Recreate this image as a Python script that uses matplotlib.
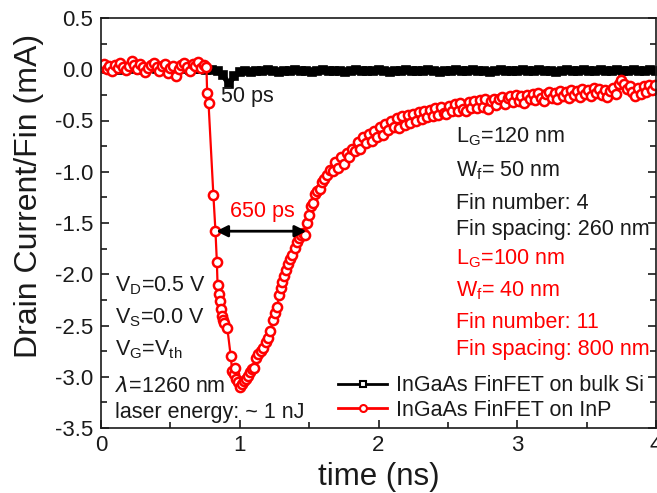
import numpy as np
import matplotlib
matplotlib.use("Agg")
import matplotlib.pyplot as plt
from matplotlib.ticker import MultipleLocator, FormatStrFormatter
from matplotlib.lines import Line2D

plt.rcParams['font.family'] = ['Liberation Sans', 'DejaVu Sans']

# InGaAs FinFET on bulk Si (black), sampled every 40 ps
t_si = np.round(np.arange(0, 4.0001, 0.04), 3)
i_si = [0.01, 0.00, 0.01, -0.01, 0.00, 0.01, 0.00, -0.01, 0.00, 0.01,
        0.00, 0.00, -0.01, 0.00, 0.01, 0.00, -0.01, 0.00, 0.00,
        -0.01, -0.01, -0.02,
        -0.06, -0.14, -0.07, -0.03,
        -0.02, -0.03, -0.02, -0.02, -0.01, -0.02, -0.03, -0.02, -0.02, -0.01,
        -0.02, -0.02, -0.03, -0.02, -0.01, -0.02, -0.02, -0.02, -0.03, -0.02,
        -0.01, -0.02, -0.02, -0.02, -0.01, -0.02, -0.03, -0.02, -0.02, -0.01,
        -0.02, -0.02, -0.02, -0.01, -0.02, -0.03, -0.02, -0.02, -0.01, -0.02,
        -0.02, -0.01, -0.02, -0.02, -0.03, -0.02, -0.01, -0.02, -0.02, -0.02,
        -0.01, -0.02, -0.02, -0.01, -0.02, -0.02, -0.03, -0.02, -0.01, -0.02,
        -0.02, -0.01, -0.02, -0.02, -0.01, -0.02, -0.02, -0.01, -0.02, -0.02,
        -0.01, -0.02, -0.02, -0.01, -0.02]

# InGaAs FinFET on InP (red)
t_inp = [0.00, 0.02, 0.04, 0.06, 0.08, 0.10, 0.12, 0.14, 0.16, 0.18,
         0.20, 0.22, 0.24, 0.26, 0.28, 0.30, 0.32, 0.34, 0.36, 0.38,
         0.40, 0.42, 0.44, 0.46, 0.48, 0.50, 0.52, 0.54, 0.56, 0.58,
         0.60, 0.62, 0.64, 0.66, 0.68, 0.70, 0.72, 0.74, 0.76,
         0.765, 0.775, 0.81, 0.825, 0.835, 0.84, 0.85, 0.855, 0.865, 0.87,
         0.88, 0.89, 0.91, 0.935, 0.945, 0.955, 0.965, 0.975, 0.99, 1.005,
         1.015, 1.03, 1.045, 1.06, 1.075, 1.09, 1.105, 1.12, 1.135, 1.15,
         1.17, 1.19, 1.205, 1.22, 1.24, 1.255, 1.27, 1.285, 1.295, 1.305,
         1.32, 1.335, 1.35, 1.365, 1.38, 1.395, 1.41, 1.425, 1.44, 1.455,
         1.47, 1.485, 1.50, 1.515, 1.53, 1.545, 1.56, 1.575, 1.59, 1.61,
         1.63, 1.65, 1.67, 1.69, 1.71, 1.73, 1.75, 1.77, 1.79, 1.81,
         1.83, 1.85, 1.87, 1.89, 1.91, 1.93, 1.95, 1.97, 1.99, 2.01,
         2.03, 2.05, 2.07, 2.09, 2.11, 2.13, 2.15, 2.17, 2.19, 2.21,
         2.23, 2.25, 2.27, 2.29, 2.31, 2.33, 2.35, 2.37, 2.39, 2.41,
         2.43, 2.45, 2.47, 2.49, 2.51, 2.53, 2.55, 2.57, 2.59, 2.61,
         2.63, 2.65, 2.67, 2.69, 2.71, 2.73, 2.75, 2.77, 2.79, 2.81,
         2.83, 2.85, 2.87, 2.89, 2.91, 2.93, 2.95, 2.97, 2.99, 3.01,
         3.03, 3.05, 3.07, 3.09, 3.11, 3.13, 3.15, 3.17, 3.19, 3.21,
         3.23, 3.25, 3.27, 3.29, 3.31, 3.33, 3.35, 3.37, 3.39, 3.41,
         3.43, 3.45, 3.47, 3.49, 3.51, 3.53, 3.55, 3.57, 3.59, 3.61,
         3.63, 3.65, 3.67, 3.69, 3.71, 3.73, 3.75, 3.77, 3.79, 3.81,
         3.83, 3.85, 3.87, 3.89, 3.91, 3.93, 3.95, 3.97, 3.99]
i_inp = [0.02, 0.05, 0.00, 0.03, -0.02, 0.04, 0.01, 0.06, 0.02, -0.01,
         0.03, 0.08, 0.04, 0.00, 0.05, 0.02, -0.03, 0.01, 0.04, 0.06,
         0.02, -0.02, 0.03, 0.05, -0.04, 0.01, 0.03, -0.07, 0.00, 0.04,
         0.06, 0.02, -0.02, 0.05, 0.03, 0.07, 0.01, 0.04, 0.02,
         -0.23, -0.33, -1.23, -1.58, -1.88, -2.10, -2.19, -2.26, -2.34, -2.41,
         -2.45, -2.48, -2.52, -2.80, -2.94, -2.97, -2.91, -3.02, -3.05, -3.10,
         -3.07, -3.04, -3.02, -2.99, -2.95, -2.92, -2.91, -2.82, -2.78, -2.75,
         -2.72, -2.66, -2.62, -2.55, -2.45, -2.38, -2.32, -2.20, -2.13, -2.08,
         -2.02, -1.96, -1.90, -1.85, -1.81, -1.74, -1.69, -1.65, -1.62, -1.60,
         -1.62, -1.50, -1.42, -1.33, -1.30, -1.22, -1.19, -1.17, -1.10, -1.07,
         -1.03, -0.98, -0.99, -0.90, -0.96, -0.86, -0.92, -0.82, -0.86, -0.78,
         -0.80, -0.71, -0.78, -0.66, -0.72, -0.63, -0.70, -0.60, -0.66, -0.56,
         -0.64, -0.53, -0.59, -0.50, -0.56, -0.48, -0.57, -0.46, -0.54, -0.45,
         -0.52, -0.44, -0.50, -0.42, -0.49, -0.41, -0.47, -0.40, -0.46, -0.38,
         -0.45, -0.37, -0.43, -0.44, -0.36, -0.41, -0.34, -0.41, -0.33, -0.39,
         -0.41, -0.32, -0.38, -0.31, -0.38, -0.30, -0.37, -0.29, -0.39, -0.31,
         -0.29, -0.35, -0.29, -0.27, -0.34, -0.28, -0.26, -0.32, -0.25, -0.31,
         -0.26, -0.33, -0.25, -0.29, -0.24, -0.30, -0.23, -0.28, -0.31, -0.24,
         -0.22, -0.28, -0.23, -0.29, -0.21, -0.26, -0.22, -0.28, -0.20, -0.25,
         -0.21, -0.27, -0.19, -0.24, -0.20, -0.26, -0.18, -0.23, -0.19, -0.25,
         -0.20, -0.27, -0.21, -0.18, -0.24, -0.14, -0.10, -0.14, -0.19, -0.16,
         -0.22, -0.26, -0.18, -0.24, -0.16, -0.22, -0.15, -0.20, -0.15]

RED = '#ff0000'
INK = '#1a1a1a'

fig = plt.figure(figsize=(6.57, 4.93), dpi=100)
ax = fig.add_axes([101 / 657, 1 - 428 / 493, 555 / 657, 410 / 493])

ax.plot(t_si, i_si, color='black', lw=4, marker='s', ms=6, mew=1.2,
        mfc='black', mec='black')
ax.plot(t_inp, i_inp, color=RED, lw=1.6, marker='o', ms=6.6, mew=1.8,
        mfc='white', mec=RED)

ax.set_xlim(0, 4)
ax.set_ylim(-3.5, 0.5)
ax.xaxis.set_major_locator(MultipleLocator(1))
ax.xaxis.set_minor_locator(MultipleLocator(0.5))
ax.yaxis.set_major_locator(MultipleLocator(0.5))
ax.yaxis.set_minor_locator(MultipleLocator(0.25))
ax.yaxis.set_major_formatter(FormatStrFormatter('%.1f'))
ax.tick_params(which='both', direction='in', right=True, top=False,
               labelsize=16, width=1.2, colors=INK)
ax.tick_params(which='major', length=6)
ax.tick_params(which='minor', length=4)
ax.tick_params(axis='y', pad=5.5)
ax.tick_params(axis='x', pad=5)
for s in ax.spines.values():
    s.set_linewidth(1.2)
    s.set_color(INK)

ax.set_xlabel('time (ns)', fontsize=22.5, color=INK)
ax.set_ylabel('Drain Current/Fin (mA)', fontsize=23, color=INK)
ax.xaxis.set_label_coords(0.5, -0.082)
ax.yaxis.set_label_coords(-0.102, 0.565)

fs = 15.5
# pulse width markers
ax.text(0.865, -0.27, '50 ps', fontsize=fs, va='center', ha='left', color=INK)
ax.annotate('', xy=(0.83, -1.58), xytext=(1.48, -1.58),
            arrowprops=dict(arrowstyle='<|-|>', color='black', lw=2,
                            mutation_scale=17, shrinkA=0, shrinkB=0))
ax.text(1.16, -1.39, '650 ps', fontsize=fs, color=RED,
        va='center', ha='center')

# device parameters
black_txt = [(-0.66, r'L$_\mathregular{G}$=120 nm'),
             (-0.99, r'W$_\mathregular{f}$= 50 nm'),
             (-1.31, 'Fin number: 4'),
             (-1.56, 'Fin spacing: 260 nm')]
red_txt = [(-1.85, r'L$_\mathregular{G}$=100 nm'),
           (-2.16, r'W$_\mathregular{f}$= 40 nm'),
           (-2.47, 'Fin number: 11'),
           (-2.73, 'Fin spacing: 800 nm')]
for y, s in black_txt:
    ax.text(2.56, y, s, fontsize=fs, va='center', ha='left', color=INK)
for y, s in red_txt:
    ax.text(2.56, y, s, fontsize=fs, va='center', ha='left', color=RED)

# bias conditions
bias_txt = [(-2.11, r'V$_\mathregular{D}$=0.5 V'),
            (-2.42, r'V$_\mathregular{S}$=0.0 V'),
            (-2.74, r'V$_\mathregular{G}$=V$_\mathregular{th}$'),
            (-3.10, r'$\lambda$=1260 nm'),
            (-3.35, 'laser energy: ~ 1 nJ')]
for y, s in bias_txt:
    ax.text(0.1, y, s, fontsize=fs, va='center', ha='left', color=INK)

handles = [Line2D([], [], color='black', lw=2, marker='s', ms=4.5, mew=1.5,
                  mfc='white', mec='black'),
           Line2D([], [], color=RED, lw=2, marker='o', ms=5, mew=1.5,
                  mfc='white', mec=RED)]
labels = ['InGaAs FinFET on bulk Si', 'InGaAs FinFET on InP']
ax.legend(handles, labels, loc='lower left', bbox_to_anchor=(0.427, 0.018),
          frameon=False, fontsize=fs, handlelength=2.3, handletextpad=0.4,
          labelspacing=0.15, borderaxespad=0, borderpad=0, labelcolor=INK)

fig.savefig('out.png', dpi=100)
